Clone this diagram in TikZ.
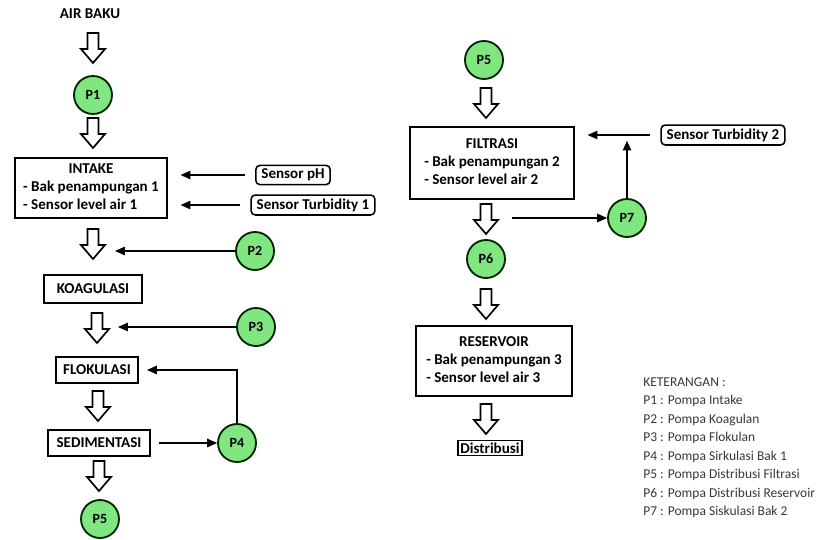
\documentclass[tikz,border=0pt]{standalone}
\usepackage{fontspec}
\setmainfont{Carlito}
\usetikzlibrary{arrows.meta}
\definecolor{pumpgreen}{RGB}{128,230,128}
\begin{document}
\begin{tikzpicture}[x=0.025cm,y=-0.025cm,font=\fontsize{10.7}{12.6}\selectfont\bfseries,
  tank/.style={draw, line width=1.3pt, inner sep=2pt},
  sensor/.style={draw, line width=1.1pt, rounded corners=3pt, inner xsep=4pt, inner ysep=2.5pt},
  pump/.style={circle, draw=black!85!green, line width=1.3pt, fill=pumpgreen, minimum size=0.95cm, inner sep=0pt, font=\fontsize{10}{12}\selectfont\bfseries},
  link/.style={-{Triangle[length=7pt,width=6pt]}, line width=0.9pt},
  hollow/.style={draw, line width=1.2pt, fill=white, line join=miter}]
\newcommand{\blockArrow}[1]{\draw[hollow] (#1) ++(-5.5,0) -- ++(0,16) -- ++(-6.5,0) -- ++(12,14) -- ++(12,-14) -- ++(-6.5,0) -- ++(0,-16) -- cycle;}
\useasboundingbox (0,0) rectangle (840,539);
% left column
\node (airbaku) at (90,14) {AIR BAKU};
\node[pump] (p1) at (93,95) {P1};
\node[tank, minimum width=3.8cm, minimum height=1.5cm] (intake) at (91,188) {\begin{tabular}{@{}l@{}}\multicolumn{1}{@{}c@{}}{INTAKE}\\- Bak penampungan 1\\- Sensor level air 1\end{tabular}};
\node[sensor] (ph) at (293,175) {Sensor pH};
\node[sensor] (turb1) at (313,205) {Sensor Turbidity 1};
\node[pump] (p2) at (255,251) {P2};
\node[tank, minimum width=2.43cm, minimum height=0.7cm] (koag) at (93,289) {KOAGULASI};
\node[pump] (p3) at (256,327) {P3};
\node[tank, minimum width=2.03cm, minimum height=0.65cm] (flok) at (97,370) {FLOKULASI};
\node[tank, minimum width=2.55cm, minimum height=0.63cm] (sedim) at (99,443) {SEDIMENTASI};
\node[pump] (p4) at (237,443) {P4};
\node[pump] (p5a) at (100,519) {P5};
% right column
\node[pump] (p5b) at (484,60) {P5};
\node[tank, minimum width=4.1cm, minimum height=1.8cm] (filtrasi) at (492,163) {\begin{tabular}{@{}l@{}}\multicolumn{1}{@{}c@{}}{FILTRASI}\\- Bak penampungan 2\\- Sensor level air 2\end{tabular}};
\node[sensor] (turb2) at (723,135) {Sensor Turbidity 2};
\node[pump] (p7) at (627,218) {P7};
\node[pump] (p6) at (486,259) {P6};
\node[tank, minimum width=3.9cm, minimum height=1.75cm] (reservoir) at (494,361) {\begin{tabular}{@{}l@{}}\multicolumn{1}{@{}c@{}}{RESERVOIR}\\- Bak penampungan 3\\- Sensor level air 3\end{tabular}};
\node[tank, inner sep=1.5pt] (distribusi) at (490,448) {Distribusi};
% flow arrows
\foreach \p in {{93,33},{93,118},{93,229},{97,313},{98,391},{99,461},{486,88},{486,204},{486,289},{486,404}}
  \blockArrow{\p}
% signal lines
\coordinate (koagin) at (115,251);
\coordinate (flokin) at (118,327);
\coordinate (filtout) at (512,218);
\draw[link, shorten <=7pt, shorten >=9pt] (ph.west) -- (ph.west -| intake.east);
\draw[link, shorten <=7pt, shorten >=9pt] (turb1.west) -- (turb1.west -| intake.east);
\draw[link] (p2) -- (koagin);
\draw[link] (p3) -- (flokin);
\draw[link, shorten >=6pt] (p4.north) |- (flok.east);
\draw[link, shorten <=6pt] (sedim.east) -- (p4);
\draw[link, shorten <=7pt, shorten >=9pt] (turb2.west) -- (turb2.west -| filtrasi.east);
\draw[link, shorten >=4pt] (p7) -- (p7 |- turb2);
\draw[link] (filtout) -- (p7);
% legend
\node[anchor=north west, align=left, font=\fontsize{9.6}{13.2}\selectfont, text=black!78, inner sep=0pt] (legend) at (643,377) {KETERANGAN :\\P1 : Pompa Intake\\P2 : Pompa Koagulan\\P3 : Pompa Flokulan\\P4 : Pompa Sirkulasi Bak 1\\P5 : Pompa Distribusi Filtrasi\\P6 : Pompa Distribusi Reservoir\\P7 : Pompa Siskulasi Bak 2};
\end{tikzpicture}
\end{document}
